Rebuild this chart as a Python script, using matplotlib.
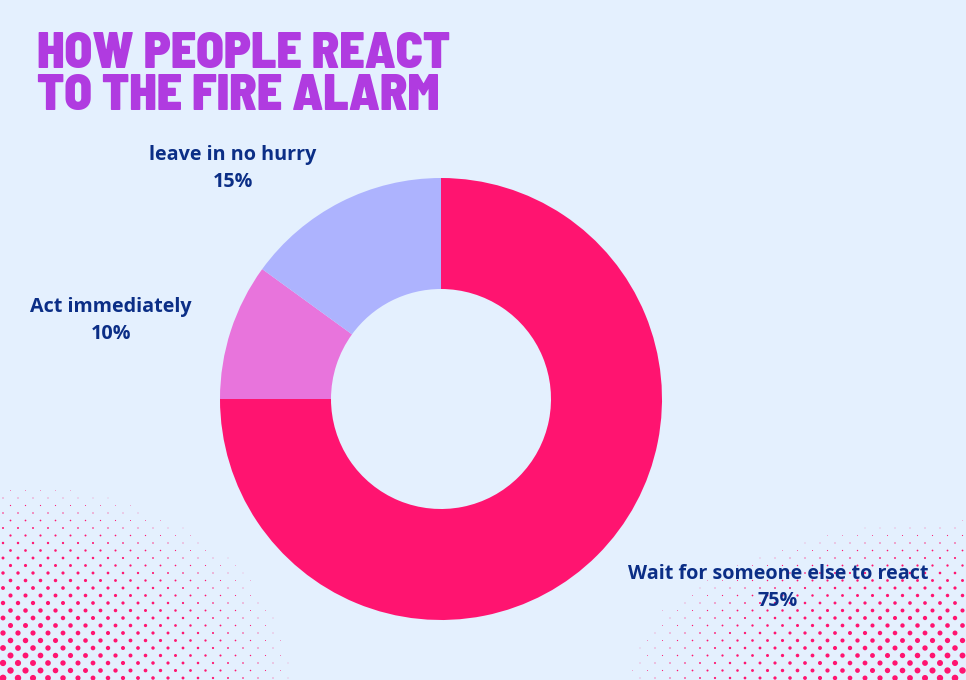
import numpy as np
import matplotlib
matplotlib.use("Agg")
import matplotlib.pyplot as plt

# ---- data ----
categories = ["Wait for someone else to react", "Act immediately", "leave in no hurry"]
values = [75, 10, 15]
colors = ["#FF1470", "#E874DC", "#ADB3FE"]
title_lines = ["HOW PEOPLE REACT", "TO THE FIRE ALARM"]

W, H = 966, 680
BG = "#E4F0FE"
TXT = "#0B2E86"

fig = plt.figure(figsize=(W / 100, H / 100), dpi=100, facecolor=BG)
ax = fig.add_axes([0, 0, 1, 1])
ax.set_facecolor(BG)

# ---- decorative halftone dots ----
def halftone(cx, cy, rx, ry, xr, yr):
    xs, ys, ss = [], [], []
    step = 15.0
    row = 0
    for y in np.arange(yr[0], yr[1], step / 2):
        off = (step / 2) if row % 2 else 0.0
        for x in np.arange(xr[0] + off, xr[1], step):
            d = np.sqrt(((x - cx) / rx) ** 2 + ((y - cy) / ry) ** 2)
            if d < 1:
                r = 3.4 * (1 - d) ** 1.0
                if r > 0.3:
                    xs.append(x); ys.append(y); ss.append((2 * r * 0.72) ** 2)
        row += 1
    return xs, ys, ss

x1, y1, s1 = halftone(0, 0, 320, 215, (3, 340), (2, 230))
ax.scatter(x1, y1, s=s1, color="#FF1470", linewidths=0, zorder=1)
x2, y2, s2 = halftone(W, 0, 370, 175, (580, W), (2, 190))
ax.scatter(x2, y2, s=s2, color="#FF1470", linewidths=0, zorder=1)

# ---- donut ----
cx, cy, R = 441, H - 399, 221
ax.pie(values, colors=colors, startangle=90, counterclock=False,
       center=(cx, cy), radius=R,
       wedgeprops=dict(width=111, linewidth=0), frame=True)

ax.set_xlim(0, W)
ax.set_ylim(0, H)
ax.set_aspect("equal")
ax.axis("off")

# ---- labels ----
label_pos = [(778, 579), (111, 312), (233, 160)]
for cat, v, (lx, ly) in zip(categories, values, label_pos):
    fig.text(lx / W, 1 - ly / H, cat, ha="center", va="baseline",
             fontsize=14.2, fontweight="bold", color=TXT, family="Open Sans")
    fig.text(lx / W, 1 - (ly + 27) / H, f"{v}%", ha="center", va="baseline",
             fontsize=14.2, fontweight="bold", color=TXT, family="Open Sans")

# ---- title ----
for i, line in enumerate(title_lines):
    fig.text(37 / W, 1 - (68 + i * 42) / H, line, ha="left", va="baseline",
             fontsize=36, fontweight=900, fontstretch="condensed",
             color="#B03BE0", family="Barlow Semi Condensed")

fig.savefig("out.png", dpi=100, facecolor=BG)
